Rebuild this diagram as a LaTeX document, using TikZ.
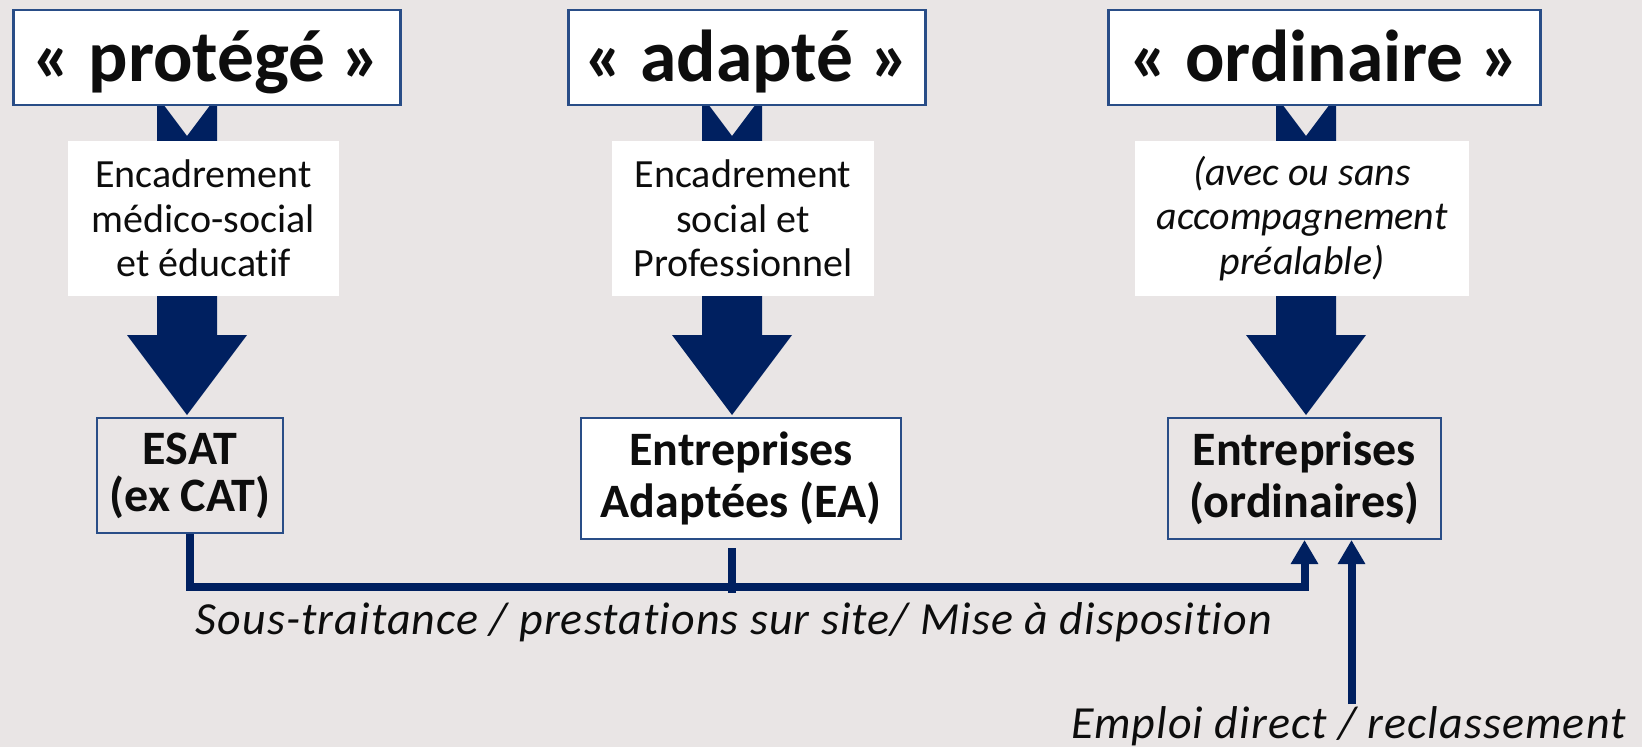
\documentclass[tikz,border=0pt]{standalone}
\usepackage{fontspec}
\setmainfont{Carlito}[Ligatures={NoCommon}]
\usetikzlibrary{arrows.meta}
\definecolor{bg}{RGB}{233,229,229}
\definecolor{navy}{RGB}{0,32,96}
\definecolor{boxline}{RGB}{41,77,135}
\definecolor{ink}{RGB}{13,13,13}
\begin{document}
\begin{tikzpicture}[x=1pt,y=-1pt,
  titlebox/.style={draw=boxline, line width=2.7pt, fill=white, minimum height=95pt,
    inner sep=0pt, text=ink, font=\fontsize{73.5}{80}\selectfont\bfseries,
    text height=48pt, text depth=0pt},
  midbox/.style={fill=white, inner sep=0pt, minimum height=155pt, text=ink,
    align=center, font=\fontsize{40}{44.5}\selectfont},
  endbox/.style={draw=boxline, line width=2pt, inner sep=0pt, text=ink,
    align=center, font=\fontsize{48}{50}\selectfont\bfseries},
  lab/.style={inner sep=0pt, text=ink, font=\fontsize{46}{50}\selectfont\itshape\addfontfeatures{LetterSpace=2.4}, anchor=base},
  conn/.style={draw=navy, line width=8pt, line join=miter},
  tipA/.style={-{Triangle[length=24pt,width=26pt]}},
  bigarrow/.pic={\fill[navy] (-30,96) -- (0,136) -- (30,96) -- (30,335) -- (60,335)
     -- (0,415) -- (-60,335) -- (-30,335) -- cycle;}
]
% canvas
\fill[bg] (0,0) rectangle (1642,747);
\useasboundingbox (0,0) rectangle (1642,747);

% big notched arrows
\pic at (187,0) {bigarrow};
\pic at (732,0) {bigarrow};
\pic at (1306,0) {bigarrow};

% title boxes
\node[titlebox, minimum width=387pt] (T1) at (207,57.5) {« protégé »\hspace{9pt}};
\node[titlebox, minimum width=357pt] (T2) at (747,57.5) {« adapté »\hspace{9pt}};
\node[titlebox, minimum width=432pt] (T3) at (1324.5,57.5) {« ordinaire »\hspace{9pt}};

% middle text boxes
\node[midbox, minimum width=271pt] (M1) at (203.5,218.5) {Encadrement\\médico-social\\et éducatif};
\node[midbox, minimum width=262pt] (M2) at (743,218.5) {Encadrement\\social et\\Professionnel};
\node[midbox, minimum width=334pt, font=\fontsize{40}{44.5}\selectfont\itshape] (M3) at (1302,218.5) {(avec ou sans\\accompagnement\\préalable)};

% bottom boxes
\node[endbox, minimum width=186pt, minimum height=115pt, fill=bg, font=\fontsize{48}{47}\selectfont\bfseries] (ESAT) at (190,475.5) {ESAT\\(ex CAT)};
\node[endbox, minimum width=320pt, minimum height=121pt, fill=white, font=\fontsize{48}{52}\selectfont\bfseries] (EA) at (741,478.5) {Entreprises\\Adaptées (EA)};
\node[endbox, minimum width=273pt, minimum height=121pt, fill=bg, font=\fontsize{48}{52}\selectfont\bfseries] (ORD) at (1304.5,478.5) {Entreprises\\(ordinaires)};

% connectors
\coordinate (busL) at (190,587);
\coordinate (tickA) at (732,548);
\coordinate (tickB) at (732,593);
\coordinate (empS) at (1351.5,704);
\draw[conn, tipA] (ESAT.south) -- (busL) -| (ORD.south);
\draw[conn] (tickA) -- (tickB);
\draw[conn, tipA] (empS) -- (empS |- ORD.south);

% labels
\node[lab] (sous) at (734,634) {Sous-traitance / prestations sur site/ Mise à disposition};
\node[lab] (emploi) at (1348.5,738) {Emploi direct / reclassement};
\end{tikzpicture}
\end{document}
